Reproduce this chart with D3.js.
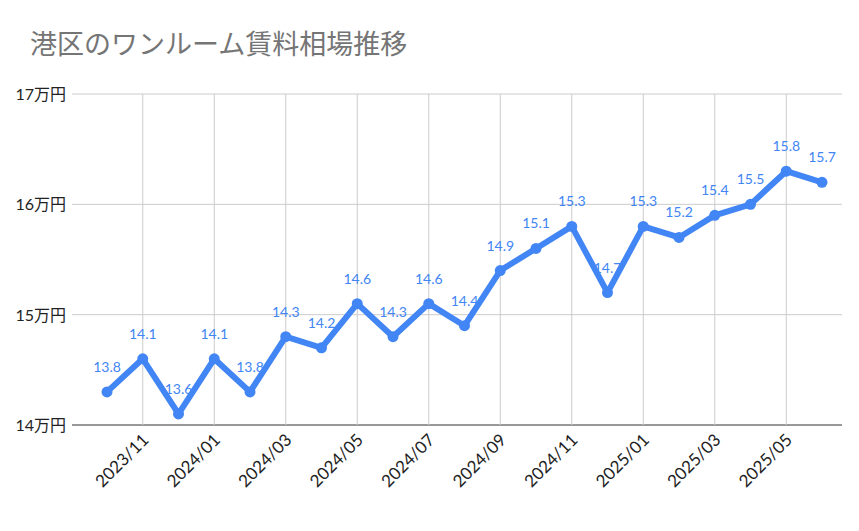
<!DOCTYPE html>
<html><head><meta charset="utf-8">
<script src="https://cdn.jsdelivr.net/npm/d3@7"></script>
<style>body{margin:0;background:#fff}</style>
</head><body>
<svg id="c" width="859" height="531"></svg>
<script>
const months = ["2023/10","2023/11","2023/12","2024/01","2024/02","2024/03","2024/04","2024/05","2024/06","2024/07","2024/08","2024/09","2024/10","2024/11","2024/12","2025/01","2025/02","2025/03","2025/04","2025/05","2025/06"];
const values = [14.3,14.6,14.1,14.6,14.3,14.8,14.7,15.1,14.8,15.1,14.9,15.4,15.6,15.8,15.2,15.8,15.7,15.9,16.0,16.3,16.2];
const pointLabels = ["13.8","14.1","13.6","14.1","13.8","14.3","14.2","14.6","14.3","14.6","14.4","14.9","15.1","15.3","14.7","15.3","15.2","15.4","15.5","15.8","15.7"];
const yTicks = [14,15,16,17];
const xTickLabels = ["2023/11","2024/01","2024/03","2024/05","2024/07","2024/09","2024/11","2025/01","2025/03","2025/05"];

const svg = d3.select("#c");
const font = "Lato, 'Noto Sans CJK JP', sans-serif";
svg.append("text").attr("x",30).attr("y",54).attr("font-size",27).attr("fill","#757575")
  .attr("font-family","'Noto Sans CJK JP', sans-serif").text("港区のワンルーム賃料相場推移");

const x = d3.scaleLinear().domain([0, months.length-1]).range([107, 822]);
const y = d3.scaleLinear().domain([14,17]).range([425, 94]);
const L = 72, R = 842;

svg.selectAll(".hg").data(yTicks).join("line")
  .attr("x1",L).attr("x2",R).attr("y1",d=>y(d)).attr("y2",d=>y(d))
  .attr("stroke",d=>d===14?"#333":"#ccc").attr("stroke-width",1);
svg.selectAll(".vg").data(xTickLabels).join("line")
  .attr("x1",d=>x(months.indexOf(d))).attr("x2",d=>x(months.indexOf(d)))
  .attr("y1",94).attr("y2",425).attr("stroke","#ccc");
svg.selectAll(".yl").data(yTicks).join("text")
  .attr("x",L-6).attr("y",d=>y(d)+6).attr("text-anchor","end").attr("font-size",16)
  .attr("font-family",font).attr("fill","#222").text(d=>d+"万円");
svg.selectAll(".xl").data(xTickLabels).join("text")
  .attr("transform",d=>`translate(${x(months.indexOf(d))+7},${441}) rotate(-45)`)
  .attr("text-anchor","end").attr("font-size",17).attr("font-family",font).attr("fill","#222").text(d=>d);

const line = d3.line().x((d,i)=>x(i)).y(d=>y(d));
svg.append("path").attr("d",line(values)).attr("fill","none").attr("stroke","#4285f4")
  .attr("stroke-width",6).attr("stroke-linejoin","round");
svg.selectAll(".pt").data(values).join("circle")
  .attr("cx",(d,i)=>x(i)).attr("cy",d=>y(d)).attr("r",5.5).attr("fill","#4285f4");
svg.selectAll(".pl").data(values).join("text")
  .attr("x",(d,i)=>x(i)).attr("y",d=>y(d)-20).attr("text-anchor","middle")
  .attr("font-size",14).attr("font-family",font).attr("fill","#4285f4")
  .text((d,i)=>pointLabels[i]);
</script>
</body></html>
